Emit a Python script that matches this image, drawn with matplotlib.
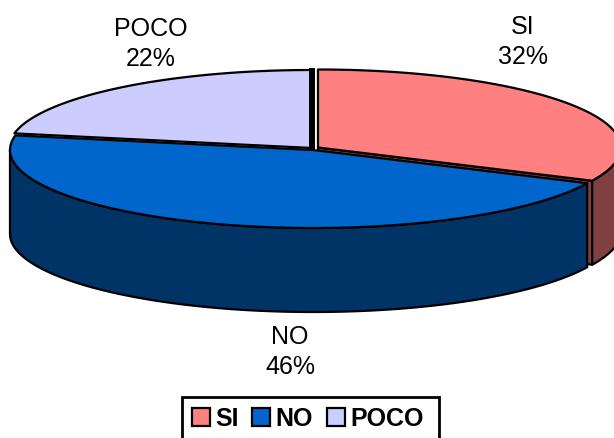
import numpy as np
import matplotlib
matplotlib.use("Agg")
import matplotlib.pyplot as plt
from matplotlib.patches import Patch, Polygon, Rectangle

plt.rcParams['font.family'] = ['Liberation Sans', 'DejaVu Sans']

categories = ["SI", "NO", "POCO"]
values = [32.0, 46.0, 22.0]
top_colors = ["#FF8080", "#0066CC", "#CCCCFF"]
wall_colors = ["#804040", "#003366", "#666680"]
centers = [(318, 147.5), (313, 150), (312, 148)]
label_pos = [(523, 42), (290, 352), (151, 44)]

RX, RY, DEPTH = 303, 78, 84
LW = 1.6

fig = plt.figure(figsize=(6.14, 4.38), dpi=100)
ax = fig.add_axes([0, 0, 1, 1])
ax.set_xlim(0, 614)
ax.set_ylim(438, 0)
ax.axis("off")


def rim(c, t0, t1, dy=0.0):
    t = np.radians(np.linspace(t0, t1, 200))
    return np.column_stack([c[0] + RX * np.sin(t), c[1] - RY * np.cos(t) + dy])


def poly(pts, color, z):
    ax.add_patch(Polygon(pts, closed=True, facecolor=color, edgecolor="black",
                         linewidth=LW, joinstyle="round", zorder=z))


edges = np.concatenate([[0], np.cumsum(values)]) * 3.6
spans = list(zip(edges[:-1], edges[1:]))

order = [2, 0, 1]
for z, i in enumerate(order):
    c, (t0, t1) = centers[i], spans[i]
    base = z * 10
    # radial cut face on the trailing edge, visible through the gap
    if i == 0:
        tip = np.array(c, float)
        out = rim(c, t1, t1)[0]
        poly([tip, out, out + [0, DEPTH], tip + [0, DEPTH]], wall_colors[i], base + 1)
    # outer wall, only for the part of the rim facing the viewer
    a0, a1 = max(t0, 90), min(t1, 270)
    if a1 > a0:
        upper = rim(c, a0, a1)
        lower = rim(c, a1, a0, DEPTH)
        poly(np.vstack([upper, lower]), wall_colors[i], base + 2)
    # top surface
    poly(np.vstack([[c], rim(c, t0, t1)]), top_colors[i], base + 3)

# heavy dark edge of the POCO slice at twelve o'clock
poco_c = centers[2]
ax.plot([poco_c[0], poco_c[0]], [poco_c[1] - RY - 2, poco_c[1] + 1], color="black",
        linewidth=4.3, solid_capstyle="butt", zorder=5)

for name, val, (x, y) in zip(categories, values, label_pos):
    ax.text(x, y, f"{name}\n{val:.0f}%", ha="center", va="center",
            fontsize=18, linespacing=1.33, color="black", zorder=100)

# legend frame runs off the bottom of the picture
ax.add_patch(Rectangle((182, 397), 257, 60, facecolor="white", edgecolor="black",
                       linewidth=2, zorder=150))
handles = [Patch(facecolor=col, edgecolor="black", linewidth=LW) for col in top_colors]
leg = ax.legend(handles, categories, ncols=3, loc="upper left",
                bbox_to_anchor=(182, 397), bbox_transform=ax.transData,
                borderaxespad=0, frameon=False, borderpad=0.38,
                handlelength=0.72, handleheight=0.72,
                handletextpad=0.22, columnspacing=0.55,
                prop={"size": 18, "weight": "bold"})
leg.set_zorder(200)

fig.savefig("out.png", dpi=100, facecolor="white")
